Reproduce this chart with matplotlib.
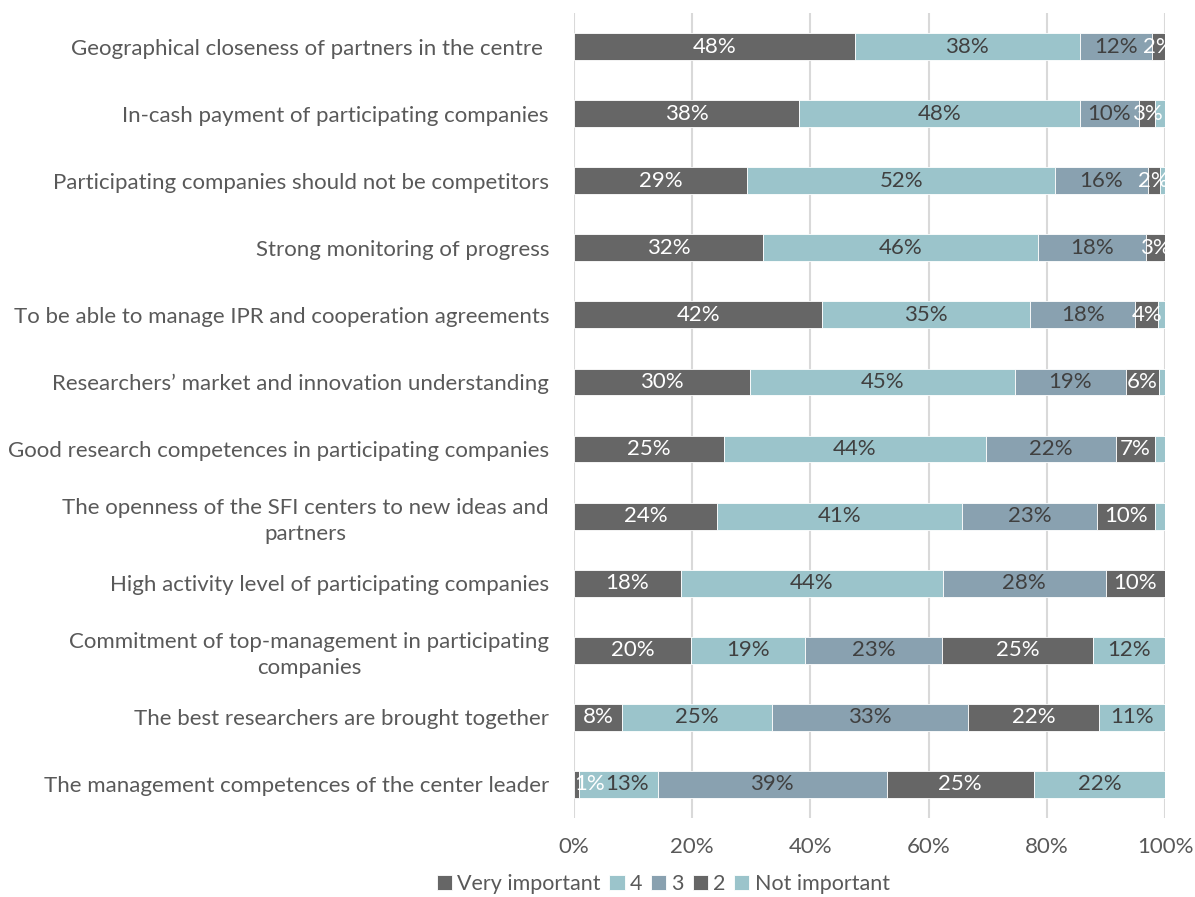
import numpy as np
import matplotlib.pyplot as plt

plt.rcParams['font.family'] = ['Lato', 'DejaVu Sans']

categories = [
    "Geographical closeness of partners in the centre ",
    "In-cash payment of participating companies",
    "Participating companies should not be competitors",
    "Strong monitoring of progress",
    "To be able to manage IPR and cooperation agreements",
    "Researchers\u2019 market and innovation understanding",
    "Good research competences in participating companies",
    "The openness of the SFI centers to new ideas and\npartners",
    "High activity level of participating companies",
    "Commitment of top-management in participating\ncompanies",
    "The best researchers are brought together",
    "The management competences of the center leader",
]

series_names = ["Very important", "4", "3", "2", "Not important"]

very_important = [47.5, 38.1, 29.3, 32.0, 42.0, 29.8, 25.4, 24.2, 18.1, 19.8, 8.1, 0.8]
four = [38.1, 47.5, 52.1, 46.5, 35.2, 44.8, 44.3, 41.5, 44.3, 19.3, 25.4, 13.4]
three = [12.2, 10.0, 15.7, 18.3, 17.8, 18.8, 22.0, 22.8, 27.6, 23.2, 33.2, 38.7]
two = [2.2, 2.7, 2.0, 3.2, 3.9, 5.6, 6.6, 9.8, 10.0, 25.5, 22.2, 24.9]
not_important = [0.0, 1.7, 0.9, 0.0, 1.1, 1.0, 1.7, 1.7, 0.0, 12.2, 11.1, 22.2]

labels_vi = ["48%", "38%", "29%", "32%", "42%", "30%", "25%", "24%", "18%", "20%", "8%", "1%"]
labels_4 = ["38%", "48%", "52%", "46%", "35%", "45%", "44%", "41%", "44%", "19%", "25%", "13%"]
labels_3 = ["12%", "10%", "16%", "18%", "18%", "19%", "22%", "23%", "28%", "23%", "33%", "39%"]
labels_2 = ["2%", "3%", "2%", "3%", "4%", "6%", "7%", "10%", "10%", "25%", "22%", "25%"]
labels_ni = ["", "", "", "", "", "", "", "", "", "12%", "11%", "22%"]

dark = "#666666"
teal = "#9bc4cb"
blue = "#89a1b0"
colors = [dark, teal, blue, dark, teal]
text_colors = ["white", "#404040", "#404040", "white", "#404040"]

values = [very_important, four, three, two, not_important]
labels = [labels_vi, labels_4, labels_3, labels_2, labels_ni]

fig = plt.figure(figsize=(11.95, 8.97), dpi=100)
ax = fig.add_axes([574 / 1195, 1 - 818 / 897, (1165 - 574) / 1195, (818 - 13) / 897])

y = np.arange(len(categories))
left = np.zeros(len(categories))
for vals, name, col, tcol, labs in zip(values, series_names, colors, text_colors, labels):
    vals = np.array(vals) / 100
    ax.barh(y, vals, left=left, height=0.4, color=col, label=name,
            edgecolor="white", linewidth=0.6, zorder=3)
    for yi, v, l0, lab in zip(y, vals, left, labs):
        if not lab:
            continue
        x, ha = l0 + v / 2, "center"
        if v < 0.015:
            # tiny segment: Excel pushes the label out to the right
            x, ha = l0, "left"
        elif yi == len(categories) - 1 and name == "4":
            x = l0 + v / 2 + 0.015
        ax.text(x, yi, lab, ha=ha, va="center", color=tcol, fontsize=16, zorder=4)
    left += vals

ax.set_ylim(len(categories) - 0.5, -0.5)
ax.set_xlim(0, 1)
ax.set_xticks(np.arange(0, 1.01, 0.2))
ax.set_xticklabels([f"{int(round(t * 100))}%" for t in np.arange(0, 1.01, 0.2)])
ax.set_yticks(y)
ax.set_yticklabels(categories, multialignment="center", linespacing=1.35)
ax.tick_params(axis="both", length=0, labelsize=16, labelcolor="#595959")
ax.tick_params(axis="y", pad=18)
ax.tick_params(axis="x", pad=14)
ax.grid(axis="x", color="#d9d9d9", linewidth=1.5, zorder=0)
for s in ax.spines.values():
    s.set_visible(False)

handles, leg_labels = ax.get_legend_handles_labels()
fig.legend(handles, leg_labels, loc="center", bbox_to_anchor=(0.555, 1 - 884 / 897),
           ncol=5, frameon=False, fontsize=15.5, handlelength=0.7, handleheight=0.7,
           handletextpad=0.25, columnspacing=0.4, labelcolor="#595959")

fig.savefig("out.png", dpi=100)
